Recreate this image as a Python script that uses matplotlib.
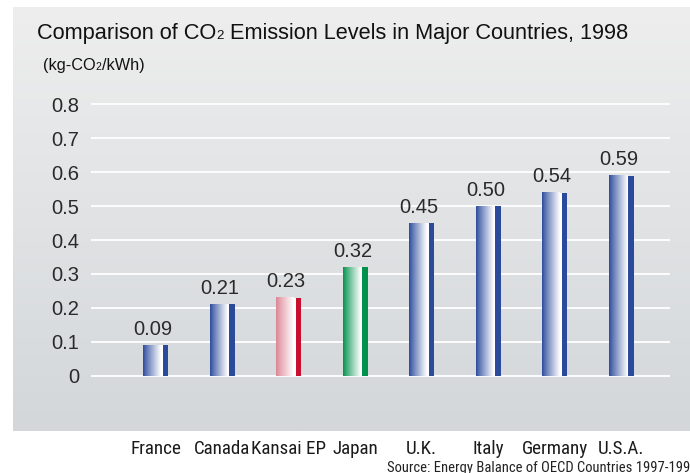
import matplotlib
matplotlib.use("Agg")
import matplotlib.pyplot as plt
import numpy as np
from matplotlib.colors import LinearSegmentedColormap
from matplotlib import font_manager as fm
from matplotlib.font_manager import FontProperties

categories = ["France", "Canada", "Kansai EP", "Japan", "U.K.", "Italy", "Germany", "U.S.A."]
values = [0.09, 0.21, 0.23, 0.32, 0.45, 0.50, 0.54, 0.59]
value_labels = ["0.09", "0.21", "0.23", "0.32", "0.45", "0.50", "0.54", "0.59"]
yticks = [0, 0.1, 0.2, 0.3, 0.4, 0.5, 0.6, 0.7, 0.8]
ytick_labels = ["0", "0.1", "0.2", "0.3", "0.4", "0.5", "0.6", "0.7", "0.8"]
bar_colors = ["#2b4a9c", "#2b4a9c", "#c8102e", "#00924a", "#2b4a9c", "#2b4a9c", "#2b4a9c", "#2b4a9c"]
grad_start = ["#2b4a9c", "#2b4a9c", "#dc8493", "#00924a", "#2b4a9c", "#2b4a9c", "#2b4a9c", "#2b4a9c"]
title_parts = ["Comparison of CO", "2", " Emission Levels in Major Countries, 1998"]
unit_parts = ["(kg-CO", "2", "/kWh)"]
source_text = "Source: Energy Balance of OECD Countries 1997-1998"

W, H = 690, 473
BASE = "Liberation Sans"

# look for a condensed / narrow sans face
narrow_file = None
prefs = ["LiberationSansNarrow-Regular", "RobotoCondensed-Regular", "OpenSans_Condensed-Regular",
         "OpenSansCondensed", "DejaVuSansCondensed.ttf", "Narrow", "Condensed"]
files = [f.fname for f in fm.fontManager.ttflist]
for p in prefs:
    cands = [f for f in files if p in f.split("/")[-1] and "Bold" not in f and "Italic" not in f
             and "Oblique" not in f and "Light" not in f]
    if cands:
        narrow_file = sorted(cands)[0]
        break


def narrow_fp(size):
    if narrow_file:
        return FontProperties(fname=narrow_file, size=size)
    return FontProperties(family=BASE, size=size)


fig = plt.figure(figsize=(W / 100, H / 100), dpi=100)
fig.patch.set_facecolor("white")
renderer = fig.canvas.get_renderer()


def fit_size(text, fp_func, target_px, ref=10.0):
    t = fig.text(0, 0, text, fontproperties=fp_func(ref))
    w = t.get_window_extent(renderer).width
    t.remove()
    return ref * target_px / w


# gradient panel background
bg = fig.add_axes([13 / W, 1 - 431 / H, (W - 13) / W, (431 - 7) / H], zorder=0)
bg_cmap = LinearSegmentedColormap.from_list("bg", ["#eeeeee", "#d3d7da"])
bg.imshow(np.linspace(0, 1, 256).reshape(-1, 1), aspect="auto", cmap=bg_cmap,
          extent=[0, 1, 0, 1], origin="upper")
bg.set_axis_off()

# main axes
x0_px, x1_px = 91, 670
ppu_y = (375.7 - 104.3) / 0.8
ylo, yhi = -0.02, 0.82
top_px = 104.3 - (yhi - 0.8) * ppu_y
bot_px = 375.7 + (0 - ylo) * ppu_y
ax = fig.add_axes([x0_px / W, 1 - bot_px / H, (x1_px - x0_px) / W, (bot_px - top_px) / H], zorder=1)
ax.patch.set_alpha(0)
ppu_x = 66.5
first_px = 155.5
xlo = (x0_px - first_px) / ppu_x
xhi = (x1_px - first_px) / ppu_x

x = np.arange(len(categories))
total_w = 25 / ppu_x
grad_w = 18 / ppu_x
gap_w = 1.5 / ppu_x
strip_w = total_w - grad_w - gap_w

for yv in yticks:
    ax.axhline(yv, color="white", lw=1.3, zorder=1)

grad_bars = ax.bar(x - total_w / 2, values, width=grad_w, align="edge", color="none", lw=0, zorder=2)
strip_bars = ax.bar(x - total_w / 2 + grad_w + gap_w, values, width=strip_w, align="edge",
                    color=bar_colors, lw=0, zorder=3)
ramp = np.linspace(0, 1, 256).reshape(1, -1) ** 0.9
for b, c0 in zip(grad_bars, grad_start):
    cm = LinearSegmentedColormap.from_list("g", [c0, "#ffffff"])
    ax.imshow(ramp, aspect="auto", cmap=cm, zorder=2,
              extent=[b.get_x(), b.get_x() + b.get_width(), 0, b.get_height()])
ax.bar(x - total_w / 2 + grad_w, values, width=gap_w, align="edge", color="white", lw=0, zorder=2)

for xi, v, lab in zip(x, values, value_labels):
    ax.annotate(lab, (xi - 0.04, v), xytext=(0, 4.5), textcoords="offset points",
                ha="center", va="bottom", fontsize=14.5, color="#2a2a2a", family=BASE)

ax.set_xlim(xlo, xhi)
ax.set_ylim(ylo, yhi)
ax.set_yticks(yticks, ytick_labels, fontsize=14.5, color="#2a2a2a", family=BASE)
cat_size = fit_size("Kansai EP", narrow_fp, 75)
ax.set_xticks(x, categories)
for lbl in ax.get_xticklabels():
    lbl.set_fontproperties(narrow_fp(cat_size))
    lbl.set_color("#1a1a1a")
    lbl.set_verticalalignment("baseline")
ax.tick_params(axis="y", length=0, pad=8.5)
ax.tick_params(axis="x", length=0, pad=(454 - bot_px) * 0.72)
for s in ax.spines.values():
    s.set_visible(False)


def rich(x_px, base_px, parts, fps, color="#111111"):
    xp = x_px
    for s, fp in zip(parts, fps):
        t = fig.text(xp / W, (H - base_px) / H, s, fontproperties=fp,
                     ha="left", va="baseline", color=color)
        bb = t.get_window_extent(renderer)
        xp = bb.x1


tfp = FontProperties(family=BASE, size=15.7)
rich(37, 39, title_parts, [tfp, FontProperties(family=BASE, size=9.5), tfp])
ufp = FontProperties(family=BASE, size=11.7)
rich(43, 70, unit_parts, [ufp, FontProperties(family=BASE, size=7.5), ufp])

src_size = fit_size(source_text, narrow_fp, 309)
fig.text(387 / W, 1.5 / H, source_text, fontproperties=narrow_fp(src_size),
         ha="left", va="baseline", color="#222222")

fig.savefig("out.png", dpi=100)
